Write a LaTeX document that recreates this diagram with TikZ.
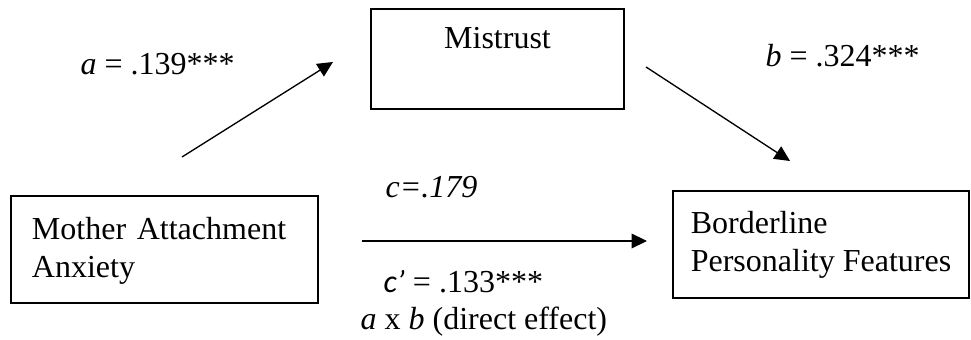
\documentclass[tikz,border=0pt]{standalone}
\usepackage{fontspec}
\setmainfont{Liberation Serif}
\newfontfamily\calibrifont{Carlito}
\usepackage{tikz}
\usetikzlibrary{arrows.meta}
\tikzset{every node/.append style={font=\fontsize{12}{14.25}\selectfont}}
\tikzset{varbox/.style={draw, rectangle, inner ysep=0pt},
         coef/.style={anchor=base west, inner sep=0pt}}

\begin{document}
\begin{tikzpicture}[x=0.375pt, y=-0.375pt, >={Triangle[length=5.8pt, width=5.5pt]}, line width=0.5pt]
    \useasboundingbox (0,0) rectangle (971,340);
    % the three variables
    \node[varbox, line width=0.55pt, minimum width=94.875pt, minimum height=37.5pt, text height=9pt, text depth=16.5pt] (mistrust) at (497.5,59) {Mistrust};
    \node[varbox, line width=1pt, minimum width=115.125pt, minimum height=40.125pt, text width=99.4pt, inner xsep=7.875pt, align=left, text height=9.2pt] (mother) at (164.5,249.5) {Mother Attachment\\Anxiety};
    \node[varbox, line width=0.4pt, minimum width=111pt, minimum height=40.125pt, align=left] (bpf) at (821,244.5) {Borderline\\Personality Features};
    % free ends of the paths
    \coordinate (a0) at (182,157);
    \coordinate (a1) at (333,62);
    \coordinate (b0) at (646,67);
    \coordinate (b1) at (790,161);
    \coordinate (c0) at (362,241);
    \coordinate (c1) at (647,241);
    \draw[->] (a0) -- (a1);
    \draw[->] (b0) -- (b1);
    \draw[->] (c0) -- (c1);
    % coefficients
    \node[coef] (alab) at (80,75) {\textit{a} = .139***};
    \node[coef] (blab) at (765,67) {\textit{b} = .324***};
    \node[coef] (clab) at (385,198) {\textit{c=.179}};
    \node[coef] (cplab) at (383,293) {{\calibrifont\itshape c’} = .133***};
    \node[coef] (ablab) at (360,330) {\textit{a} x \textit{b} (direct effect)};
\end{tikzpicture}
\end{document}
